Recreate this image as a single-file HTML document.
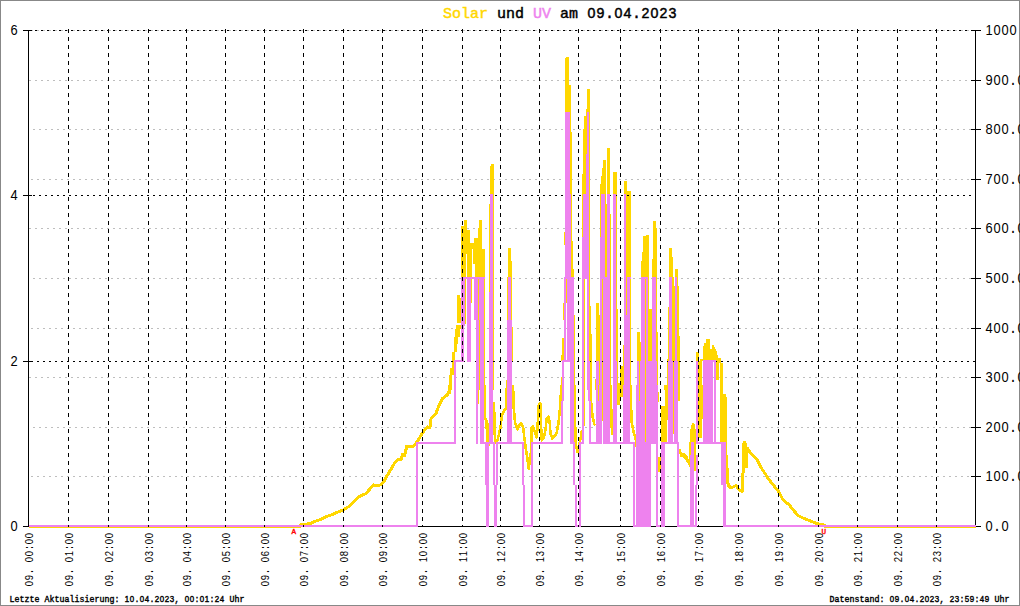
<!DOCTYPE html>
<html lang="de">
<head>
<meta charset="utf-8">
<title>Solar und UV am 09.04.2023</title>
<style>
html,body{margin:0;padding:0;background:#fff;}
body{width:1020px;height:606px;overflow:hidden;position:relative;font-family:"Liberation Mono",monospace;}
#chart{position:absolute;left:0;top:0;width:1020px;height:606px;display:block;}
svg text{font-family:"Liberation Mono",monospace;fill:#000;white-space:pre;}
.ttl{font-size:15px;font-weight:normal;stroke:#000;stroke-width:0.45px;}
.yl{font-size:13.33px;}
.xl{font-size:12.2px;}
.dg{font-family:"Liberation Sans",sans-serif;}
.ft{font-size:8.33px;stroke:#000;stroke-width:0.4px;}
.mk{font-size:7.6px;fill:#f00;stroke:#f00;stroke-width:0.4px;}
</style>
</head>
<body>
<svg id="chart" width="1020" height="606" viewBox="0 0 1020 606">
<rect x="0" y="0" width="1020" height="606" fill="#fff"/>
<rect x="0.5" y="0.5" width="1019" height="605" fill="none" stroke="#888888" stroke-width="1" shape-rendering="crispEdges"/>
<text class="ttl" transform="translate(443,18)" y="0" text-anchor="middle" xml:space="preserve"><tspan x="4.50 13.50 22.50 31.50 40.50" style="font-size:15.00px;fill:#FFD700;stroke:#FFD700;">Solar</tspan><tspan x="49.50 58.50 67.50 76.50 85.50" style="font-size:15.00px;"> und </tspan><tspan x="94.50 103.50" style="font-size:15.00px;fill:#EE82EE;stroke:#EE82EE;">UV</tspan><tspan x="112.50 121.50 130.50 139.50" style="font-size:15.00px;"> am </tspan><tspan class="dg" x="148.50 157.50" style="font-size:14.2px;">09</tspan><tspan x="166.50" style="font-size:15.00px;">.</tspan><tspan class="dg" x="175.50 184.50" style="font-size:14.2px;">04</tspan><tspan x="193.50" style="font-size:15.00px;">.</tspan><tspan class="dg" x="202.50 211.50 220.50 229.50" style="font-size:14.2px;">2023</tspan></text>
<g shape-rendering="crispEdges" fill="#000">
<rect x="28" y="30" width="1" height="497"/>
<rect x="975" y="30" width="1" height="497"/>
<rect x="28" y="526" width="948" height="1"/>
</g>
<g shape-rendering="crispEdges">
<line x1="31" y1="476.5" x2="975" y2="476.5" stroke="#bebebe" stroke-width="1" stroke-dasharray="2 4"/>
<line x1="33" y1="427.5" x2="975" y2="427.5" stroke="#bebebe" stroke-width="1" stroke-dasharray="2 4"/>
<line x1="29" y1="377.5" x2="975" y2="377.5" stroke="#bebebe" stroke-width="1" stroke-dasharray="2 4"/>
<line x1="31" y1="328.5" x2="975" y2="328.5" stroke="#bebebe" stroke-width="1" stroke-dasharray="2 4"/>
<line x1="33" y1="278.5" x2="975" y2="278.5" stroke="#bebebe" stroke-width="1" stroke-dasharray="2 4"/>
<line x1="29" y1="228.5" x2="975" y2="228.5" stroke="#bebebe" stroke-width="1" stroke-dasharray="2 4"/>
<line x1="31" y1="179.5" x2="975" y2="179.5" stroke="#bebebe" stroke-width="1" stroke-dasharray="2 4"/>
<line x1="33" y1="129.5" x2="975" y2="129.5" stroke="#bebebe" stroke-width="1" stroke-dasharray="2 4"/>
<line x1="29" y1="80.5" x2="975" y2="80.5" stroke="#bebebe" stroke-width="1" stroke-dasharray="2 4"/>
<line x1="31" y1="30.5" x2="975" y2="30.5" stroke="#bebebe" stroke-width="1" stroke-dasharray="2 4"/>
</g>
<g shape-rendering="crispEdges" fill="#000">
<rect x="23" y="526" width="9" height="1"/>
<rect x="23" y="361" width="9" height="1"/>
<rect x="23" y="195" width="9" height="1"/>
<rect x="23" y="30" width="9" height="1"/>
<rect x="971" y="526" width="10" height="1"/>
<rect x="971" y="476" width="10" height="1"/>
<rect x="971" y="427" width="10" height="1"/>
<rect x="971" y="377" width="10" height="1"/>
<rect x="971" y="328" width="10" height="1"/>
<rect x="971" y="278" width="10" height="1"/>
<rect x="971" y="228" width="10" height="1"/>
<rect x="971" y="179" width="10" height="1"/>
<rect x="971" y="129" width="10" height="1"/>
<rect x="971" y="80" width="10" height="1"/>
<rect x="971" y="30" width="10" height="1"/>
</g>
<path d="M461 245h5v32h-5zM466 245h1v9h-1zM467 245h5v32h-5zM472 245h1v4h-1zM473 245h2v19h-2zM475 245h7v32h-7zM482 249h3v28h-3zM465 277h1v43h-1zM471 277h1v26h-1zM478 277h1v43h-1zM484 277h1v43h-1zM457 295h3v25h-3zM460 298h1v22h-1zM489 245h5v75h-5zM508 248h3v29h-3zM511 261h1v59h-1zM507 277h1v43h-1zM563 303h1v17h-1zM566 277h1v26h-1zM571 245h2v32h-2zM573 269h1v8h-1zM457 315h4v8h-4zM456 325h5v4h-5zM455 329h5v8h-5zM454 337h4v7h-4zM454 344h3v8h-3zM452 352h3v16h-3zM450 368h4v7h-4zM449 375h3v15h-3zM479 315h1v75h-1zM484 315h1v75h-1zM493 315h1v75h-1zM512 327h1v34h-1zM506 380h1v10h-1zM562 338h2v17h-2zM561 355h3v6h-3zM561 377h1v13h-1zM574 315h1v75h-1zM449 385h2v9h-2zM478 385h1v19h-1zM484 385h1v33h-1zM589 245h1v75h-1zM584 279h1v41h-1zM590 306h1v14h-1zM596 303h3v17h-3zM599 315h1v5h-1zM605 245h2v33h-2zM610 245h1v75h-1zM602 277h1v43h-1zM616 245h1v75h-1zM617 309h1v11h-1zM626 245h5v32h-5zM626 277h1v43h-1zM630 277h1v43h-1zM641 261h1v16h-1zM642 252h1v25h-1zM643 245h6v32h-6zM652 259h1v18h-1zM653 245h4v32h-4zM645 277h1v43h-1zM648 277h1v43h-1zM649 309h3v11h-3zM656 277h1v43h-1zM669 248h3v29h-3zM672 257h1v20h-1zM672 277h2v9h-2zM672 286h3v9h-3zM672 295h3v25h-3zM668 307h1v13h-1zM675 269h3v8h-3zM677 277h1v43h-1zM678 286h1v34h-1zM584 315h1v75h-1zM589 315h2v46h-2zM591 334h1v27h-1zM590 361h2v29h-2zM596 315h4v46h-4zM595 379h1v11h-1zM599 361h1v29h-1zM602 315h1v75h-1zM610 315h1v75h-1zM616 315h2v46h-2zM617 361h1v29h-1zM617 383h3v7h-3zM620 366h3v24h-3zM623 345h1v45h-1zM630 315h1v75h-1zM637 332h3v29h-3zM640 342h1v19h-1zM645 315h1v75h-1zM648 315h4v47h-4zM656 315h1v75h-1zM657 332h1v29h-1zM639 361h1v29h-1zM657 361h1v29h-1zM664 385h4v5h-4zM668 315h1v46h-1zM672 315h3v46h-3zM677 315h2v46h-2zM679 336h1v25h-1zM667 359h1v31h-1zM673 361h1v29h-1zM678 361h2v29h-2zM696 352h3v9h-3zM700 359h2v31h-2zM698 361h3v29h-3zM584 385h1v41h-1zM602 385h1v36h-1zM617 385h3v20h-3zM620 385h3v12h-3zM658 392h1v10h-1zM661 406h4v36h-4zM665 385h2v57h-2zM667 385h1v35h-1zM673 385h1v49h-1zM678 385h2v16h-2zM698 385h4v53h-4zM658 457h3v15h-3zM694 455h2v16h-2zM702 359h1v2h-1zM703 346h1v15h-1zM704 343h2v18h-2zM706 339h4v22h-4zM710 349h2v12h-2zM712 345h2v16h-2zM714 347h1v14h-1zM715 349h1v12h-1zM716 351h1v29h-1zM717 355h1v25h-1zM718 358h1v22h-1zM719 358h2v5h-2zM721 363h2v27h-2zM720 363h1v27h-1zM702 385h1v34h-1zM720 385h3v58h-3zM723 394h3v49h-3zM726 397h1v63h-1zM727 456h1v4h-1zM461 226h3v19h-3zM464 220h3v25h-3zM467 230h3v15h-3zM470 243h4v2h-4zM474 238h4v7h-4zM478 228h1v17h-1zM479 220h3v25h-3zM490 166h1v79h-1zM491 164h3v81h-3zM489 204h1v41h-1zM565 58h1v187h-1zM566 57h3v188h-3zM569 85h2v160h-2zM571 132h1v113h-1zM572 241h1v4h-1zM564 232h1v13h-1zM587 89h3v156h-3zM586 109h1v136h-1zM584 116h2v129h-2zM583 129h1v116h-1zM582 174h1v71h-1zM601 176h1v69h-1zM602 168h1v77h-1zM603 160h3v85h-3zM606 204h1v41h-1zM607 148h3v97h-3zM610 214h1v31h-1zM613 172h4v73h-4zM600 184h1v53h-1zM624 181h3v64h-3zM627 191h4v54h-4zM643 236h3v9h-3zM646 235h3v10h-3zM653 221h3v24h-3zM656 228h1v17h-1zM742 443h5v25h-5zM29 526h272v2h-272zM824 526h152v2h-152zM465 315h1v9h-1zM690 431h2v12h-2zM692 424h3v19h-3z" fill="#FFD700" shape-rendering="crispEdges"/>
<polyline points="485,385 485.1,417.4 486.4,422.4 487.6,442.3" fill="none" stroke="#FFD700" stroke-width="2.6" stroke-linejoin="round" shape-rendering="crispEdges"/>
<polyline points="487,420 488.5,446" fill="none" stroke="#FFD700" stroke-width="2.6" stroke-linejoin="round" shape-rendering="crispEdges"/>
<polyline points="494,402 494.6,430 495.2,443 495.7,442.9 497.6,439.8 499.4,432.3 500.7,426.1 501.9,414.9 503.8,411.1 506,408.7 506.5,400 506.9,385" fill="none" stroke="#FFD700" stroke-width="2.6" stroke-linejoin="round" shape-rendering="crispEdges"/>
<polyline points="512.6,385 513.5,393.7 513.7,407.4 515,422.4 517.5,429.2 519.4,424.8 521.2,423 523.1,427.3 524.3,437.3 525.6,447.3 527.4,458.5 528.7,468.7 530,459.7 531.2,449.7 531.8,427.3 533,426.7 534.9,431.7 536.8,437.3 538,419.9 538.9,403.7 540.5,403.7 540.9,422.4 541.8,440.4 543.6,438.5 545.5,429.8 546.7,418.6 548.2,416.7 549.6,421.1 550.5,433.6 552.3,438.5 554.8,436 556.7,432.3 558.6,422.4 559.8,409.9 561.1,391.2 561.7,385" fill="none" stroke="#FFD700" stroke-width="2.6" stroke-linejoin="round" shape-rendering="crispEdges"/>
<polyline points="574.5,385 574.8,427.3 575.4,442.3" fill="none" stroke="#FFD700" stroke-width="2.6" stroke-linejoin="round" shape-rendering="crispEdges"/>
<polyline points="575.4,427 576,445 577.5,452 579,446 581,436 582,430" fill="none" stroke="#FFD700" stroke-width="2.6" stroke-linejoin="round" shape-rendering="crispEdges"/>
<polyline points="590.8,385 591,401 592.5,416 594.3,424.5 595.5,425" fill="none" stroke="#FFD700" stroke-width="2.6" stroke-linejoin="round" shape-rendering="crispEdges"/>
<polyline points="610.8,385 611.5,425 612.4,435" fill="none" stroke="#FFD700" stroke-width="2.6" stroke-linejoin="round" shape-rendering="crispEdges"/>
<polyline points="630.4,385 631.6,422 633.5,432 636,440 636.6,447" fill="none" stroke="#FFD700" stroke-width="2.6" stroke-linejoin="round" shape-rendering="crispEdges"/>
<polyline points="679.4,449 680.9,454 684,454 686.5,457 688.5,462 690.2,465.6 690.8,442 691.5,430 693,424 694.3,430 694.8,460" fill="none" stroke="#FFD700" stroke-width="2.6" stroke-linejoin="round" shape-rendering="crispEdges"/>
<polyline points="726.8,455 727.2,480 728.5,485.5 730.9,488 733.7,486.7 736.2,485.5 738.7,489.2 741.8,491.4 743,489.9 742.8,475 743.7,466.2 744.3,442 745.5,455 746.2,467 746.2,452 747.4,448.5 751.8,454.5 756.8,459 760.5,466.8 764.3,472.4 769.2,479.9 774.2,486.1 779.2,492.4 782.9,499.8 789.2,504.8 794.1,511 797.9,515.4 804.1,518.5 810.3,521 816.6,523.5 822.8,524.7 826,526.5" fill="none" stroke="#FFD700" stroke-width="3" stroke-linejoin="round" shape-rendering="crispEdges"/>
<polyline points="299,526.5 300,525 311.2,523.5 313.7,521.6 319.9,519.8 326.1,516.6 332.4,514.5 338.6,511.7 343.6,509.8 348.5,506.7 352.3,503.6 357.3,498 361,495.5 366,493.6 369.7,489.2 373.5,484.9 376,485.5 380.9,484.9 383.4,482.4 387.2,475.5 390.9,469.3 394.6,463.1 398.4,459.4 400.9,460 402.5,454.7 404.6,455.6 406.8,446 413.7,446 416.8,442.3 422.4,433 427.4,426.7 429.9,428 431.1,418.6 436.1,413 439.2,404.9 442.3,398.7 447.3,395 449.8,390 450,385" fill="none" stroke="#FFD700" stroke-width="3" stroke-linejoin="round" shape-rendering="crispEdges"/>
<polyline points="680,455.5 684,456 687.7,461 690.2,465.6" fill="none" stroke="#FFD700" stroke-width="2.6" stroke-linejoin="round" shape-rendering="crispEdges"/>
<g shape-rendering="crispEdges">
<line x1="31" y1="361.5" x2="975" y2="361.5" stroke="#000" stroke-width="1" stroke-dasharray="2 4"/>
<line x1="33" y1="195.5" x2="975" y2="195.5" stroke="#000" stroke-width="1" stroke-dasharray="2 4"/>
<line x1="29" y1="30.5" x2="975" y2="30.5" stroke="#000" stroke-width="1" stroke-dasharray="2 4"/>
</g>
<path d="M461 277h4v43h-4zM467 277h4v43h-4zM474 277h4v43h-4zM479 277h5v43h-5zM461 277h24v2h-24zM490 245h3v75h-3zM508 277h3v43h-3zM564 277h2v43h-2zM565 245h6v34h-6zM567 277h7v43h-7zM454 360h2v30h-2zM454 360h10v2h-10zM461 315h4v5h-4zM461 320h3v42h-3zM467 315h4v47h-4zM474 315h4v5h-4zM476 320h3v70h-3zM480 315h4v75h-4zM489 315h4v75h-4zM507 320h5v70h-5zM508 315h3v5h-3zM562 360h2v30h-2zM562 360h8v2h-8zM564 315h2v47h-2zM567 315h7v47h-7zM570 362h4v28h-4zM454 385h2v59h-2zM416 442h40v2h-40zM476 385h2v59h-2zM480 385h4v59h-4zM485 442h4v18h-4zM489 385h4v59h-4zM493 442h2v18h-2zM496 442h2v18h-2zM480 442h15v2h-15zM496 442h28v2h-28zM507 385h5v59h-5zM522 442h2v43h-2zM523 485h2v42h-2zM531 442h2v85h-2zM523 525h10v2h-10zM531 442h32v2h-32zM562 385h2v16h-2zM561 401h2v43h-2zM570 385h4v59h-4zM570 442h5v2h-5zM485 455h4v30h-4zM486 485h3v42h-3zM493 455h2v30h-2zM496 455h2v30h-2zM494 485h3v42h-3zM573 442h2v43h-2zM575 485h2v42h-2zM29 525h389v2h-389zM582 245h7v34h-7zM582 277h2v43h-2zM587 277h2v43h-2zM600 245h5v34h-5zM607 245h3v34h-3zM600 277h2v43h-2zM603 277h7v43h-7zM613 245h3v75h-3zM624 245h2v75h-2zM627 277h3v43h-3zM627 277h4v2h-4zM641 277h4v43h-4zM646 277h2v43h-2zM652 277h4v43h-4zM641 277h7v2h-7zM652 277h4v2h-4zM669 277h3v43h-3zM675 277h2v43h-2zM669 277h3v2h-3zM675 277h2v2h-2zM582 315h2v75h-2zM587 315h2v75h-2zM587 361h3v29h-3zM596 361h3v29h-3zM600 315h2v75h-2zM603 315h7v75h-7zM613 315h3v75h-3zM613 361h4v29h-4zM624 315h6v75h-6zM641 315h4v47h-4zM646 315h2v47h-2zM652 315h4v47h-4zM637 361h2v29h-2zM640 361h5v29h-5zM646 361h11v29h-11zM669 315h3v47h-3zM675 315h2v47h-2zM668 361h5v29h-5zM674 361h4v29h-4zM696 361h2v29h-2zM579 442h2v18h-2zM579 442h5v2h-5zM582 385h2v59h-2zM588 385h2v16h-2zM589 401h2v43h-2zM589 442h13v2h-13zM596 385h6v59h-6zM603 385h7v59h-7zM603 442h32v2h-32zM613 385h4v59h-4zM623 385h7v59h-7zM633 442h2v18h-2zM636 385h15v75h-15zM651 385h7v59h-7zM656 442h2v18h-2zM668 385h5v59h-5zM674 385h4v59h-4zM661 442h18v2h-18zM661 442h4v18h-4zM677 442h2v18h-2zM691 442h3v18h-3zM696 385h2v59h-2zM696 442h6v2h-6zM579 455h2v72h-2zM575 525h6v2h-6zM633 455h2v72h-2zM636 455h15v72h-15zM633 525h18v2h-18zM656 455h2v72h-2zM661 455h4v72h-4zM656 525h9v2h-9zM677 455h2v72h-2zM677 525h20v2h-20zM690 455h4v72h-4zM696 455h2v30h-2zM695 485h2v42h-2zM703 360h10v30h-10zM714 360h2v30h-2zM703 360h13v2h-13zM703 385h10v59h-10zM714 385h2v59h-2zM696 442h30v2h-30zM721 442h5v18h-5zM721 455h5v30h-5zM723 485h3v42h-3zM723 525h253v2h-253zM490 194h3v51h-3zM565 112h5v84h-5zM565 194h6v51h-6zM587 112h2v133h-2zM586 154h1v91h-1zM583 194h3v51h-3zM582 237h1v8h-1zM601 194h4v51h-4zM600 237h1v8h-1zM607 194h3v51h-3zM613 194h3v51h-3zM624 194h2v51h-2zM416 442h2v85h-2zM489 292h1v98h-1zM461 315h4v11h-4z" fill="#EE82EE" shape-rendering="crispEdges"/>
<path d="M598 385h1v16h-1zM639 385h1v16h-1zM645 385h1v57h-1z" fill="#FFD700" shape-rendering="crispEdges"/>
<g shape-rendering="crispEdges">
<line x1="68.5" y1="29" x2="68.5" y2="527" stroke="#000" stroke-width="1" stroke-dasharray="4 4"/>
<line x1="108.5" y1="29" x2="108.5" y2="527" stroke="#000" stroke-width="1" stroke-dasharray="4 4"/>
<line x1="148.5" y1="29" x2="148.5" y2="527" stroke="#000" stroke-width="1" stroke-dasharray="4 4"/>
<line x1="186.5" y1="29" x2="186.5" y2="527" stroke="#000" stroke-width="1" stroke-dasharray="4 4"/>
<line x1="225.5" y1="29" x2="225.5" y2="527" stroke="#000" stroke-width="1" stroke-dasharray="4 4"/>
<line x1="264.5" y1="29" x2="264.5" y2="527" stroke="#000" stroke-width="1" stroke-dasharray="4 4"/>
<line x1="303.5" y1="29" x2="303.5" y2="527" stroke="#000" stroke-width="1" stroke-dasharray="4 4"/>
<line x1="343.5" y1="29" x2="343.5" y2="527" stroke="#000" stroke-width="1" stroke-dasharray="4 4"/>
<line x1="382.5" y1="29" x2="382.5" y2="527" stroke="#000" stroke-width="1" stroke-dasharray="4 4"/>
<line x1="422.5" y1="29" x2="422.5" y2="527" stroke="#000" stroke-width="1" stroke-dasharray="4 4"/>
<line x1="462.5" y1="29" x2="462.5" y2="527" stroke="#000" stroke-width="1" stroke-dasharray="4 4"/>
<line x1="500.5" y1="29" x2="500.5" y2="527" stroke="#000" stroke-width="1" stroke-dasharray="4 4"/>
<line x1="539.5" y1="29" x2="539.5" y2="527" stroke="#000" stroke-width="1" stroke-dasharray="4 4"/>
<line x1="578.5" y1="29" x2="578.5" y2="527" stroke="#000" stroke-width="1" stroke-dasharray="4 4"/>
<line x1="620.5" y1="29" x2="620.5" y2="527" stroke="#000" stroke-width="1" stroke-dasharray="4 4"/>
<line x1="660.5" y1="29" x2="660.5" y2="527" stroke="#000" stroke-width="1" stroke-dasharray="4 4"/>
<line x1="698.5" y1="29" x2="698.5" y2="527" stroke="#000" stroke-width="1" stroke-dasharray="4 4"/>
<line x1="738.5" y1="29" x2="738.5" y2="527" stroke="#000" stroke-width="1" stroke-dasharray="4 4"/>
<line x1="778.5" y1="29" x2="778.5" y2="527" stroke="#000" stroke-width="1" stroke-dasharray="4 4"/>
<line x1="818.5" y1="29" x2="818.5" y2="527" stroke="#000" stroke-width="1" stroke-dasharray="4 4"/>
<line x1="857.5" y1="29" x2="857.5" y2="527" stroke="#000" stroke-width="1" stroke-dasharray="4 4"/>
<line x1="897.5" y1="29" x2="897.5" y2="527" stroke="#000" stroke-width="1" stroke-dasharray="4 4"/>
<line x1="936.5" y1="29" x2="936.5" y2="527" stroke="#000" stroke-width="1" stroke-dasharray="4 4"/>
</g>
<text class="yl" transform="translate(10,531) scale(0.92,1)" y="0" text-anchor="middle" xml:space="preserve"><tspan class="dg" x="4.35" style="font-size:14px;">0</tspan></text>
<text class="yl" transform="translate(10,366) scale(0.92,1)" y="0" text-anchor="middle" xml:space="preserve"><tspan class="dg" x="4.35" style="font-size:14px;">2</tspan></text>
<text class="yl" transform="translate(10,200) scale(0.92,1)" y="0" text-anchor="middle" xml:space="preserve"><tspan class="dg" x="4.35" style="font-size:14px;">4</tspan></text>
<text class="yl" transform="translate(10,35) scale(0.92,1)" y="0" text-anchor="middle" xml:space="preserve"><tspan class="dg" x="4.35" style="font-size:14px;">6</tspan></text>
<text class="yl" transform="translate(985,531) scale(0.92,1)" y="0" text-anchor="middle" xml:space="preserve"><tspan class="dg" x="4.35" style="font-size:14px;">0</tspan><tspan x="13.04" style="font-size:14.49px;">.</tspan><tspan class="dg" x="21.74" style="font-size:14px;">0</tspan></text>
<text class="yl" transform="translate(985,481) scale(0.92,1)" y="0" text-anchor="middle" xml:space="preserve"><tspan class="dg" x="4.35 13.04 21.74" style="font-size:14px;">100</tspan><tspan x="30.43" style="font-size:14.49px;">.</tspan><tspan class="dg" x="39.13" style="font-size:14px;">0</tspan></text>
<text class="yl" transform="translate(985,432) scale(0.92,1)" y="0" text-anchor="middle" xml:space="preserve"><tspan class="dg" x="4.35 13.04 21.74" style="font-size:14px;">200</tspan><tspan x="30.43" style="font-size:14.49px;">.</tspan><tspan class="dg" x="39.13" style="font-size:14px;">0</tspan></text>
<text class="yl" transform="translate(985,382) scale(0.92,1)" y="0" text-anchor="middle" xml:space="preserve"><tspan class="dg" x="4.35 13.04 21.74" style="font-size:14px;">300</tspan><tspan x="30.43" style="font-size:14.49px;">.</tspan><tspan class="dg" x="39.13" style="font-size:14px;">0</tspan></text>
<text class="yl" transform="translate(985,333) scale(0.92,1)" y="0" text-anchor="middle" xml:space="preserve"><tspan class="dg" x="4.35 13.04 21.74" style="font-size:14px;">400</tspan><tspan x="30.43" style="font-size:14.49px;">.</tspan><tspan class="dg" x="39.13" style="font-size:14px;">0</tspan></text>
<text class="yl" transform="translate(985,283) scale(0.92,1)" y="0" text-anchor="middle" xml:space="preserve"><tspan class="dg" x="4.35 13.04 21.74" style="font-size:14px;">500</tspan><tspan x="30.43" style="font-size:14.49px;">.</tspan><tspan class="dg" x="39.13" style="font-size:14px;">0</tspan></text>
<text class="yl" transform="translate(985,233) scale(0.92,1)" y="0" text-anchor="middle" xml:space="preserve"><tspan class="dg" x="4.35 13.04 21.74" style="font-size:14px;">600</tspan><tspan x="30.43" style="font-size:14.49px;">.</tspan><tspan class="dg" x="39.13" style="font-size:14px;">0</tspan></text>
<text class="yl" transform="translate(985,184) scale(0.92,1)" y="0" text-anchor="middle" xml:space="preserve"><tspan class="dg" x="4.35 13.04 21.74" style="font-size:14px;">700</tspan><tspan x="30.43" style="font-size:14.49px;">.</tspan><tspan class="dg" x="39.13" style="font-size:14px;">0</tspan></text>
<text class="yl" transform="translate(985,134) scale(0.92,1)" y="0" text-anchor="middle" xml:space="preserve"><tspan class="dg" x="4.35 13.04 21.74" style="font-size:14px;">800</tspan><tspan x="30.43" style="font-size:14.49px;">.</tspan><tspan class="dg" x="39.13" style="font-size:14px;">0</tspan></text>
<text class="yl" transform="translate(985,85) scale(0.92,1)" y="0" text-anchor="middle" xml:space="preserve"><tspan class="dg" x="4.35 13.04 21.74" style="font-size:14px;">900</tspan><tspan x="30.43" style="font-size:14.49px;">.</tspan><tspan class="dg" x="39.13" style="font-size:14px;">0</tspan></text>
<text class="yl" transform="translate(985,35) scale(0.92,1)" y="0" text-anchor="middle" xml:space="preserve"><tspan class="dg" x="4.35 13.04 21.74 30.43" style="font-size:14px;">1000</tspan></text>
<text class="xl" transform="translate(33.1,586.5) rotate(-90) scale(0.84,1)" y="0" text-anchor="middle" xml:space="preserve"><tspan class="dg" x="3.57 10.71" style="font-size:11.3px;">09</tspan><tspan x="17.86 25.00" style="font-size:11.90px;">. </tspan><tspan class="dg" x="32.14 39.29" style="font-size:11.3px;">00</tspan><tspan x="46.43" style="font-size:11.90px;">:</tspan><tspan class="dg" x="53.57 60.71" style="font-size:11.3px;">00</tspan></text>
<text class="xl" transform="translate(73.1,586.5) rotate(-90) scale(0.84,1)" y="0" text-anchor="middle" xml:space="preserve"><tspan class="dg" x="3.57 10.71" style="font-size:11.3px;">09</tspan><tspan x="17.86 25.00" style="font-size:11.90px;">. </tspan><tspan class="dg" x="32.14 39.29" style="font-size:11.3px;">01</tspan><tspan x="46.43" style="font-size:11.90px;">:</tspan><tspan class="dg" x="53.57 60.71" style="font-size:11.3px;">00</tspan></text>
<text class="xl" transform="translate(113.1,586.5) rotate(-90) scale(0.84,1)" y="0" text-anchor="middle" xml:space="preserve"><tspan class="dg" x="3.57 10.71" style="font-size:11.3px;">09</tspan><tspan x="17.86 25.00" style="font-size:11.90px;">. </tspan><tspan class="dg" x="32.14 39.29" style="font-size:11.3px;">02</tspan><tspan x="46.43" style="font-size:11.90px;">:</tspan><tspan class="dg" x="53.57 60.71" style="font-size:11.3px;">00</tspan></text>
<text class="xl" transform="translate(153.1,586.5) rotate(-90) scale(0.84,1)" y="0" text-anchor="middle" xml:space="preserve"><tspan class="dg" x="3.57 10.71" style="font-size:11.3px;">09</tspan><tspan x="17.86 25.00" style="font-size:11.90px;">. </tspan><tspan class="dg" x="32.14 39.29" style="font-size:11.3px;">03</tspan><tspan x="46.43" style="font-size:11.90px;">:</tspan><tspan class="dg" x="53.57 60.71" style="font-size:11.3px;">00</tspan></text>
<text class="xl" transform="translate(191.1,586.5) rotate(-90) scale(0.84,1)" y="0" text-anchor="middle" xml:space="preserve"><tspan class="dg" x="3.57 10.71" style="font-size:11.3px;">09</tspan><tspan x="17.86 25.00" style="font-size:11.90px;">. </tspan><tspan class="dg" x="32.14 39.29" style="font-size:11.3px;">04</tspan><tspan x="46.43" style="font-size:11.90px;">:</tspan><tspan class="dg" x="53.57 60.71" style="font-size:11.3px;">00</tspan></text>
<text class="xl" transform="translate(230.1,586.5) rotate(-90) scale(0.84,1)" y="0" text-anchor="middle" xml:space="preserve"><tspan class="dg" x="3.57 10.71" style="font-size:11.3px;">09</tspan><tspan x="17.86 25.00" style="font-size:11.90px;">. </tspan><tspan class="dg" x="32.14 39.29" style="font-size:11.3px;">05</tspan><tspan x="46.43" style="font-size:11.90px;">:</tspan><tspan class="dg" x="53.57 60.71" style="font-size:11.3px;">00</tspan></text>
<text class="xl" transform="translate(269.1,586.5) rotate(-90) scale(0.84,1)" y="0" text-anchor="middle" xml:space="preserve"><tspan class="dg" x="3.57 10.71" style="font-size:11.3px;">09</tspan><tspan x="17.86 25.00" style="font-size:11.90px;">. </tspan><tspan class="dg" x="32.14 39.29" style="font-size:11.3px;">06</tspan><tspan x="46.43" style="font-size:11.90px;">:</tspan><tspan class="dg" x="53.57 60.71" style="font-size:11.3px;">00</tspan></text>
<text class="xl" transform="translate(308.1,586.5) rotate(-90) scale(0.84,1)" y="0" text-anchor="middle" xml:space="preserve"><tspan class="dg" x="3.57 10.71" style="font-size:11.3px;">09</tspan><tspan x="17.86 25.00" style="font-size:11.90px;">. </tspan><tspan class="dg" x="32.14 39.29" style="font-size:11.3px;">07</tspan><tspan x="46.43" style="font-size:11.90px;">:</tspan><tspan class="dg" x="53.57 60.71" style="font-size:11.3px;">00</tspan></text>
<text class="xl" transform="translate(348.1,586.5) rotate(-90) scale(0.84,1)" y="0" text-anchor="middle" xml:space="preserve"><tspan class="dg" x="3.57 10.71" style="font-size:11.3px;">09</tspan><tspan x="17.86 25.00" style="font-size:11.90px;">. </tspan><tspan class="dg" x="32.14 39.29" style="font-size:11.3px;">08</tspan><tspan x="46.43" style="font-size:11.90px;">:</tspan><tspan class="dg" x="53.57 60.71" style="font-size:11.3px;">00</tspan></text>
<text class="xl" transform="translate(387.1,586.5) rotate(-90) scale(0.84,1)" y="0" text-anchor="middle" xml:space="preserve"><tspan class="dg" x="3.57 10.71" style="font-size:11.3px;">09</tspan><tspan x="17.86 25.00" style="font-size:11.90px;">. </tspan><tspan class="dg" x="32.14 39.29" style="font-size:11.3px;">09</tspan><tspan x="46.43" style="font-size:11.90px;">:</tspan><tspan class="dg" x="53.57 60.71" style="font-size:11.3px;">00</tspan></text>
<text class="xl" transform="translate(427.1,586.5) rotate(-90) scale(0.84,1)" y="0" text-anchor="middle" xml:space="preserve"><tspan class="dg" x="3.57 10.71" style="font-size:11.3px;">09</tspan><tspan x="17.86 25.00" style="font-size:11.90px;">. </tspan><tspan class="dg" x="32.14 39.29" style="font-size:11.3px;">10</tspan><tspan x="46.43" style="font-size:11.90px;">:</tspan><tspan class="dg" x="53.57 60.71" style="font-size:11.3px;">00</tspan></text>
<text class="xl" transform="translate(467.1,586.5) rotate(-90) scale(0.84,1)" y="0" text-anchor="middle" xml:space="preserve"><tspan class="dg" x="3.57 10.71" style="font-size:11.3px;">09</tspan><tspan x="17.86 25.00" style="font-size:11.90px;">. </tspan><tspan class="dg" x="32.14 39.29" style="font-size:11.3px;">11</tspan><tspan x="46.43" style="font-size:11.90px;">:</tspan><tspan class="dg" x="53.57 60.71" style="font-size:11.3px;">00</tspan></text>
<text class="xl" transform="translate(505.1,586.5) rotate(-90) scale(0.84,1)" y="0" text-anchor="middle" xml:space="preserve"><tspan class="dg" x="3.57 10.71" style="font-size:11.3px;">09</tspan><tspan x="17.86 25.00" style="font-size:11.90px;">. </tspan><tspan class="dg" x="32.14 39.29" style="font-size:11.3px;">12</tspan><tspan x="46.43" style="font-size:11.90px;">:</tspan><tspan class="dg" x="53.57 60.71" style="font-size:11.3px;">00</tspan></text>
<text class="xl" transform="translate(544.1,586.5) rotate(-90) scale(0.84,1)" y="0" text-anchor="middle" xml:space="preserve"><tspan class="dg" x="3.57 10.71" style="font-size:11.3px;">09</tspan><tspan x="17.86 25.00" style="font-size:11.90px;">. </tspan><tspan class="dg" x="32.14 39.29" style="font-size:11.3px;">13</tspan><tspan x="46.43" style="font-size:11.90px;">:</tspan><tspan class="dg" x="53.57 60.71" style="font-size:11.3px;">00</tspan></text>
<text class="xl" transform="translate(583.1,586.5) rotate(-90) scale(0.84,1)" y="0" text-anchor="middle" xml:space="preserve"><tspan class="dg" x="3.57 10.71" style="font-size:11.3px;">09</tspan><tspan x="17.86 25.00" style="font-size:11.90px;">. </tspan><tspan class="dg" x="32.14 39.29" style="font-size:11.3px;">14</tspan><tspan x="46.43" style="font-size:11.90px;">:</tspan><tspan class="dg" x="53.57 60.71" style="font-size:11.3px;">00</tspan></text>
<text class="xl" transform="translate(625.1,586.5) rotate(-90) scale(0.84,1)" y="0" text-anchor="middle" xml:space="preserve"><tspan class="dg" x="3.57 10.71" style="font-size:11.3px;">09</tspan><tspan x="17.86 25.00" style="font-size:11.90px;">. </tspan><tspan class="dg" x="32.14 39.29" style="font-size:11.3px;">15</tspan><tspan x="46.43" style="font-size:11.90px;">:</tspan><tspan class="dg" x="53.57 60.71" style="font-size:11.3px;">00</tspan></text>
<text class="xl" transform="translate(665.1,586.5) rotate(-90) scale(0.84,1)" y="0" text-anchor="middle" xml:space="preserve"><tspan class="dg" x="3.57 10.71" style="font-size:11.3px;">09</tspan><tspan x="17.86 25.00" style="font-size:11.90px;">. </tspan><tspan class="dg" x="32.14 39.29" style="font-size:11.3px;">16</tspan><tspan x="46.43" style="font-size:11.90px;">:</tspan><tspan class="dg" x="53.57 60.71" style="font-size:11.3px;">00</tspan></text>
<text class="xl" transform="translate(703.1,586.5) rotate(-90) scale(0.84,1)" y="0" text-anchor="middle" xml:space="preserve"><tspan class="dg" x="3.57 10.71" style="font-size:11.3px;">09</tspan><tspan x="17.86 25.00" style="font-size:11.90px;">. </tspan><tspan class="dg" x="32.14 39.29" style="font-size:11.3px;">17</tspan><tspan x="46.43" style="font-size:11.90px;">:</tspan><tspan class="dg" x="53.57 60.71" style="font-size:11.3px;">00</tspan></text>
<text class="xl" transform="translate(743.1,586.5) rotate(-90) scale(0.84,1)" y="0" text-anchor="middle" xml:space="preserve"><tspan class="dg" x="3.57 10.71" style="font-size:11.3px;">09</tspan><tspan x="17.86 25.00" style="font-size:11.90px;">. </tspan><tspan class="dg" x="32.14 39.29" style="font-size:11.3px;">18</tspan><tspan x="46.43" style="font-size:11.90px;">:</tspan><tspan class="dg" x="53.57 60.71" style="font-size:11.3px;">00</tspan></text>
<text class="xl" transform="translate(783.1,586.5) rotate(-90) scale(0.84,1)" y="0" text-anchor="middle" xml:space="preserve"><tspan class="dg" x="3.57 10.71" style="font-size:11.3px;">09</tspan><tspan x="17.86 25.00" style="font-size:11.90px;">. </tspan><tspan class="dg" x="32.14 39.29" style="font-size:11.3px;">19</tspan><tspan x="46.43" style="font-size:11.90px;">:</tspan><tspan class="dg" x="53.57 60.71" style="font-size:11.3px;">00</tspan></text>
<text class="xl" transform="translate(823.1,586.5) rotate(-90) scale(0.84,1)" y="0" text-anchor="middle" xml:space="preserve"><tspan class="dg" x="3.57 10.71" style="font-size:11.3px;">09</tspan><tspan x="17.86 25.00" style="font-size:11.90px;">. </tspan><tspan class="dg" x="32.14 39.29" style="font-size:11.3px;">20</tspan><tspan x="46.43" style="font-size:11.90px;">:</tspan><tspan class="dg" x="53.57 60.71" style="font-size:11.3px;">00</tspan></text>
<text class="xl" transform="translate(862.1,586.5) rotate(-90) scale(0.84,1)" y="0" text-anchor="middle" xml:space="preserve"><tspan class="dg" x="3.57 10.71" style="font-size:11.3px;">09</tspan><tspan x="17.86 25.00" style="font-size:11.90px;">. </tspan><tspan class="dg" x="32.14 39.29" style="font-size:11.3px;">21</tspan><tspan x="46.43" style="font-size:11.90px;">:</tspan><tspan class="dg" x="53.57 60.71" style="font-size:11.3px;">00</tspan></text>
<text class="xl" transform="translate(902.1,586.5) rotate(-90) scale(0.84,1)" y="0" text-anchor="middle" xml:space="preserve"><tspan class="dg" x="3.57 10.71" style="font-size:11.3px;">09</tspan><tspan x="17.86 25.00" style="font-size:11.90px;">. </tspan><tspan class="dg" x="32.14 39.29" style="font-size:11.3px;">22</tspan><tspan x="46.43" style="font-size:11.90px;">:</tspan><tspan class="dg" x="53.57 60.71" style="font-size:11.3px;">00</tspan></text>
<text class="xl" transform="translate(941.1,586.5) rotate(-90) scale(0.84,1)" y="0" text-anchor="middle" xml:space="preserve"><tspan class="dg" x="3.57 10.71" style="font-size:11.3px;">09</tspan><tspan x="17.86 25.00" style="font-size:11.90px;">. </tspan><tspan class="dg" x="32.14 39.29" style="font-size:11.3px;">23</tspan><tspan x="46.43" style="font-size:11.90px;">:</tspan><tspan class="dg" x="53.57 60.71" style="font-size:11.3px;">00</tspan></text>
<text class="mk" x="291.6" y="534">A</text>
<text class="mk" x="821.4" y="534">U</text>
<text class="ft" transform="translate(9.5,601.6) scale(0.92,1)" y="0" text-anchor="middle" xml:space="preserve"><tspan x="2.72 8.15 13.59 19.02 24.46 29.89 35.33 40.76 46.20 51.63 57.07 62.50 67.93 73.37 78.80 84.24 89.67 95.11 100.54 105.98 111.41 116.85 122.28" style="font-size:9.05px;">Letzte Aktualisierung: </tspan><tspan class="dg" x="127.72 133.15" style="font-size:8.6px;">10</tspan><tspan x="138.59" style="font-size:9.05px;">.</tspan><tspan class="dg" x="144.02 149.46" style="font-size:8.6px;">04</tspan><tspan x="154.89" style="font-size:9.05px;">.</tspan><tspan class="dg" x="160.33 165.76 171.20 176.63" style="font-size:8.6px;">2023</tspan><tspan x="182.07 187.50" style="font-size:9.05px;">, </tspan><tspan class="dg" x="192.93 198.37" style="font-size:8.6px;">00</tspan><tspan x="203.80" style="font-size:9.05px;">:</tspan><tspan class="dg" x="209.24 214.67" style="font-size:8.6px;">01</tspan><tspan x="220.11" style="font-size:9.05px;">:</tspan><tspan class="dg" x="225.54 230.98" style="font-size:8.6px;">24</tspan><tspan x="236.41 241.85 247.28 252.72" style="font-size:9.05px;"> Uhr</tspan></text>
<text class="ft" transform="translate(829.5,601.6) scale(0.92,1)" y="0" text-anchor="middle" xml:space="preserve"><tspan x="2.72 8.15 13.59 19.02 24.46 29.89 35.33 40.76 46.20 51.63 57.07 62.50" style="font-size:9.05px;">Datenstand: </tspan><tspan class="dg" x="67.93 73.37" style="font-size:8.6px;">09</tspan><tspan x="78.80" style="font-size:9.05px;">.</tspan><tspan class="dg" x="84.24 89.67" style="font-size:8.6px;">04</tspan><tspan x="95.11" style="font-size:9.05px;">.</tspan><tspan class="dg" x="100.54 105.98 111.41 116.85" style="font-size:8.6px;">2023</tspan><tspan x="122.28 127.72" style="font-size:9.05px;">, </tspan><tspan class="dg" x="133.15 138.59" style="font-size:8.6px;">23</tspan><tspan x="144.02" style="font-size:9.05px;">:</tspan><tspan class="dg" x="149.46 154.89" style="font-size:8.6px;">59</tspan><tspan x="160.33" style="font-size:9.05px;">:</tspan><tspan class="dg" x="165.76 171.20" style="font-size:8.6px;">49</tspan><tspan x="176.63 182.07 187.50 192.93" style="font-size:9.05px;"> Uhr</tspan></text>
</svg>
</body>
</html>
